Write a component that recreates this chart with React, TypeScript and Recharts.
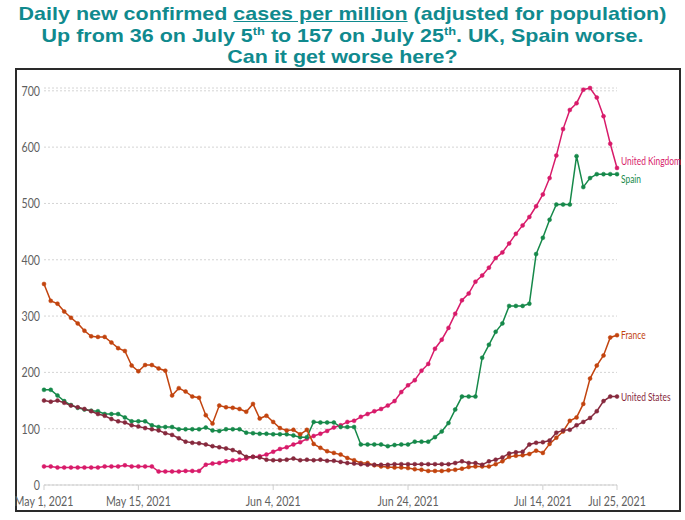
import React from 'react';
import { LineChart, Line, XAxis, YAxis, CartesianGrid } from 'recharts';

// daily new confirmed cases per million, May 1 .. Jul 25, 2021 (one value per day)
const ukValues = [
    33, 33, 31, 31, 31, 31, 31, 31, 31, 33,
    33, 33, 35, 33, 33, 33, 33, 24, 24, 24,
    24, 25, 25, 25, 36, 38, 39, 42, 44, 45,
    47, 50, 51, 54, 59, 64, 67, 72, 76, 82,
    87, 91, 96, 102, 106, 112, 114, 121, 126, 131,
    135, 141, 149, 165, 177, 186, 203, 215, 242, 258,
    279, 304, 328, 340, 361, 372, 386, 403, 413, 429,
    446, 461, 476, 495, 516, 545, 585, 632, 666, 678,
    702, 705, 688, 655, 606, 563,
];
const spainValues = [
    169, 169, 159, 149, 142, 137, 134, 132, 131, 126,
    126, 126, 120, 113, 113, 113, 106, 103, 103, 103,
    99, 99, 99, 99, 102, 97, 96, 99, 99, 99,
    93, 92, 91, 91, 90, 90, 90, 88, 85, 85,
    112, 111, 111, 111, 103, 103, 103, 72, 72, 72,
    72, 69, 71, 72, 72, 77, 77, 77, 85, 95,
    110, 134, 157, 157, 157, 226, 249, 272, 287, 318,
    318, 318, 322, 410, 439, 471, 498, 498, 498, 584,
    529, 545, 552, 552, 552, 552,
];
const franceValues = [
    357, 327, 322, 308, 297, 287, 274, 264, 263, 263,
    253, 243, 238, 212, 202, 213, 213, 207, 203, 159,
    172, 166, 157, 155, 124, 109, 141, 138, 137, 135,
    130, 144, 118, 123, 112, 101, 97, 98, 90, 98,
    73, 66, 60, 57, 54, 48, 44, 39, 39, 35,
    33, 32, 31, 31, 30, 28, 27, 25, 25, 25,
    26, 27, 29, 32, 33, 33, 33, 37, 42, 50,
    52, 53, 55, 61, 57, 73, 84, 95, 114, 120,
    144, 189, 212, 230, 262, 266,
];
const usValues = [
    150, 148, 150, 146, 141, 138, 135, 131, 126, 123,
    117, 113, 111, 106, 104, 101, 99, 97, 92, 89,
    83, 77, 75, 74, 72, 69, 67, 65, 62, 58,
    50, 50, 49, 45, 44, 44, 45, 47, 44, 45,
    44, 45, 43, 43, 41, 39, 38, 37, 36, 36,
    36, 36, 37, 37, 37, 37, 37, 37, 37, 37,
    37, 39, 42, 39, 39, 36, 42, 45, 49, 56,
    58, 59, 72, 75, 76, 79, 93, 97, 98, 106,
    112, 119, 131, 149, 157, 157,
];

const tickDays = [0, 14, 34, 54, 74, 85];
const tickLabels = ['May 1, 2021', 'May 15, 2021', 'Jun 4, 2021', 'Jun 24, 2021', 'Jul 14, 2021', 'Jul 25, 2021'];
const yTicks = [0, 100, 200, 300, 400, 500, 600, 700];

const SERIES = [
    { key: 'uk', name: 'United Kingdom', color: '#d81b6a', dy: -7 },
    { key: 'spain', name: 'Spain', color: '#16894a', dy: 5 },
    { key: 'france', name: 'France', color: '#c2440f', dy: 0 },
    { key: 'us', name: 'United States', color: '#86293d', dy: 0 },
];

const data = ukValues.map((uk, day) => ({
    day,
    uk,
    spain: spainValues[day],
    france: franceValues[day],
    us: usValues[day],
}));

const LAST = data.length - 1;
const SQUEEZE = 'scale(0.76,1)';
const chartFont = 'Lato, sans-serif';

const XTick = (props: any) => {
    const { x, y, payload } = props;
    const i = tickDays.indexOf(payload.value);
    return (
        <g transform={`translate(${x},${y + 1})`}>
            <text transform={SQUEEZE} textAnchor="middle" dy="0.85em" fontSize={14} fontFamily={chartFont} fill="#5f5f5f">
                {tickLabels[i]}
            </text>
        </g>
    );
};

const YTick = (props: any) => {
    const { x, y, payload } = props;
    return (
        <g transform={`translate(${x},${y})`}>
            <text transform={SQUEEZE} textAnchor="end" dy="0.35em" fontSize={14} fontFamily={chartFont} fill="#5f5f5f">
                {payload.value}
            </text>
        </g>
    );
};

const endLabel = (s: typeof SERIES[number]) => (props: any) => {
    const { x, y, index } = props;
    if (index !== LAST) return <g />;
    return (
        <g transform={`translate(${x + 4},${y + s.dy})`}>
            <text transform="scale(0.7,1)" dy="0.35em" fontSize={12} fontFamily={chartFont} fill={s.color}>
                {s.name}
            </text>
        </g>
    );
};

export default function App() {
    return (
        <div style={{ position: 'absolute', left: 0, top: 0, width: 685, height: 520, background: '#fff' }}>
            {/* Title, stretched a little wider like the slide */}
            <div
                style={{
                    position: 'absolute',
                    top: 3,
                    left: 0,
                    width: 685,
                    textAlign: 'center',
                    fontFamily: '"Liberation Sans", Arial, sans-serif',
                    fontWeight: 'bold',
                    fontSize: 19,
                    lineHeight: '21.5px',
                    color: '#108a8e',
                    whiteSpace: 'nowrap',
                    transform: 'scaleX(1.13)',
                    transformOrigin: '50% 0',
                }}
            >
                <div>
                    Daily new confirmed <span style={{ textDecoration: 'underline' }}>cases per million</span> (adjusted for population)
                </div>
                <div>
                    Up from 36 on July 5<sup style={{ fontSize: '0.6em', lineHeight: 0 }}>th</sup> to 157 on July 25
                    <sup style={{ fontSize: '0.6em', lineHeight: 0 }}>th</sup>. UK, Spain worse.
                </div>
                <div>Can it get worse here?</div>
            </div>

            {/* Frame */}
            <div
                style={{
                    position: 'absolute',
                    left: 15,
                    top: 68,
                    width: 662,
                    height: 440,
                    border: '2px solid #2a2a2a',
                }}
            />

            <div style={{ position: 'absolute', left: 0, top: 0 }}>
                <LineChart width={685} height={520} data={data} margin={{ top: 88, right: 68, bottom: 0, left: 0 }}>
                    <CartesianGrid vertical={false} stroke="#d4d4d4" strokeDasharray="2 2" />
                    <XAxis
                        dataKey="day"
                        type="number"
                        domain={[0, 85]}
                        ticks={tickDays}
                        height={35}
                        stroke="#cfcfcf"
                        tickSize={5}
                        tickMargin={3}
                        tick={<XTick />}
                    />
                    <YAxis
                        domain={[0, 700]}
                        ticks={yTicks}
                        width={44}
                        axisLine={false}
                        tickLine={false}
                        tickSize={0}
                        tickMargin={4}
                        tick={<YTick />}
                    />
                    {SERIES.map(s => (
                        <Line
                            key={s.key}
                            dataKey={s.key}
                            name={s.name}
                            stroke={s.color}
                            strokeWidth={1.5}
                            dot={{ r: 2, fill: s.color, stroke: s.color, strokeWidth: 0.5 }}
                            isAnimationActive={false}
                            label={endLabel(s)}
                        />
                    ))}
                </LineChart>
            </div>
        </div>
    );
}
